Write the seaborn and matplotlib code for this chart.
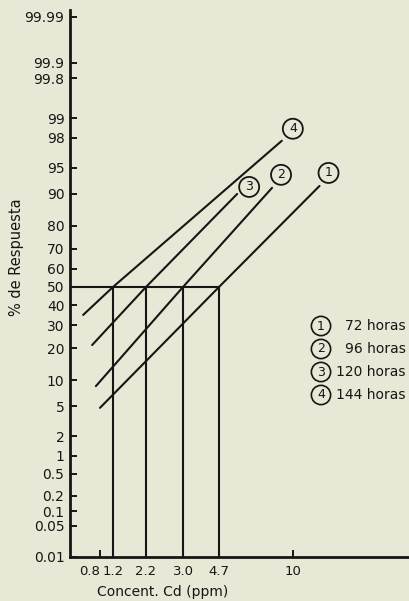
import numpy as np
import pandas as pd
import matplotlib
matplotlib.use("Agg")
import matplotlib.pyplot as plt
import seaborn as sns
from statistics import NormalDist

# --- data -------------------------------------------------------------
hours = [72, 96, 120, 144]
series_ids = ["1", "2", "3", "4"]
lc50 = [4.7, 3.0, 2.2, 1.2]            # concentration at 50 % response (ppm)
conc_lo = [0.80, 0.69, 0.59, 0.35]     # lower end of each response line
resp_lo = [4.8, 8.6, 21.2, 35.0]
conc_hi = [11.9, 8.5, 6.0, 9.2]        # upper end of each response line
resp_hi = [91.8, 91.4, 90.0, 97.8]

x_ticks = [0.8, 1.2, 2.2, 3.0, 4.7, 10]
x_tick_labels = ["0.8", "1.2", "2.2", "3.0", "4.7", "10"]
y_ticks = [0.01, 0.05, 0.1, 0.2, 0.5, 1, 2, 5, 10, 20, 30, 40, 50,
           60, 70, 80, 90, 95, 98, 99, 99.8, 99.9, 99.99]
y_tick_labels = ["0.01", "0.05", "0.1", "0.2", "0.5", "1", "2", "5", "10",
                 "20", "30", "40", "50", "60", "70", "80", "90", "95",
                 "98", "99", "99.8", "99.9", "99.99"]

# --- scales -----------------------------------------------------------
# probability (probit) axis for the response
_nd = NormalDist()
_ppf = np.vectorize(lambda p: _nd.inv_cdf(p), otypes=[float])
_cdf = np.vectorize(lambda z: _nd.cdf(z), otypes=[float])


def prob_fwd(p):
    p = np.clip(np.asarray(p, dtype=float) / 100.0, 1e-9, 1 - 1e-9)
    return _ppf(p)


def prob_inv(z):
    return _cdf(np.asarray(z, dtype=float)) * 100.0


# hand-spaced concentration axis (piecewise linear between the ticks)
knot_c = np.array([0.0, 0.8, 1.2, 2.2, 3.0, 4.7, 10.0])
knot_u = np.array([0.0, 30.0, 43.0, 76.0, 113.0, 149.0, 223.0])
_slope_hi = (knot_u[-1] - knot_u[-2]) / (knot_c[-1] - knot_c[-2])


def conc_fwd(c):
    c = np.asarray(c, dtype=float)
    u = np.interp(c, knot_c, knot_u)
    return np.where(c > knot_c[-1], knot_u[-1] + (c - knot_c[-1]) * _slope_hi, u)


def conc_inv(u):
    u = np.asarray(u, dtype=float)
    c = np.interp(u, knot_u, knot_c)
    return np.where(u > knot_u[-1], knot_c[-1] + (u - knot_u[-1]) / _slope_hi, c)


# --- table for seaborn ------------------------------------------------
rows = []
for sid, a, pa, m, b, pb in zip(series_ids, conc_lo, resp_lo, lc50, conc_hi, resp_hi):
    rows += [(sid, a, pa), (sid, m, 50.0), (sid, b, pb)]
df = pd.DataFrame(rows, columns=["serie", "conc", "resp"])

# --- figure -----------------------------------------------------------
bg = "#e9e8d6"
ink = "#161616"
sns.set_style("ticks")
plt.rcParams["font.family"] = ["DejaVu Sans"]
plt.rcParams["text.color"] = ink
plt.rcParams["xtick.color"] = ink
plt.rcParams["ytick.color"] = ink

fig = plt.figure(figsize=(4.10, 6.01), dpi=100, facecolor=bg)
ax = fig.add_axes([70 / 410, 1 - 557 / 601, 340 / 410, 547 / 601])
ax.set_facecolor(bg)

sns.lineplot(data=df, x="conc", y="resp", units="serie", estimator=None,
             sort=False, color=ink, linewidth=1.5, legend=False, ax=ax)

ax.set_xscale("function", functions=(conc_fwd, conc_inv))
ax.set_yscale("function", functions=(prob_fwd, prob_inv))
ax.set_xlim(0.0, float(conc_inv(340.0)))
ax.set_ylim(0.01, float(prob_inv(3.815)))

# LC50 guide lines
ax.vlines(lc50, 0.01, 50, color=ink, linewidth=1.5)
ax.hlines(50, 0.0, max(lc50), color=ink, linewidth=1.5)

# circled series numbers at the line ends
offsets = {"1": (9, 13), "2": (9, 13), "3": (12, 7), "4": (11, 12)}
for sid, b, pb in zip(series_ids, conc_hi, resp_hi):
    ax.annotate(sid, (b, pb), xytext=offsets[sid], textcoords="offset pixels",
                ha="center", va="center", fontsize=9, color=ink,
                bbox=dict(boxstyle="circle,pad=0.28", fc="none", ec=ink, lw=1.3))

# axes styling
sns.despine(ax=ax)
for side in ("left", "bottom"):
    ax.spines[side].set_linewidth(2.0)
    ax.spines[side].set_color(ink)
ax.set_xticks(x_ticks)
ax.set_xticklabels(x_tick_labels)
ax.set_yticks(y_ticks)
ax.set_yticklabels(y_tick_labels)
ax.minorticks_off()
ax.tick_params(axis="both", direction="in", length=5, width=1.4, labelsize=10)
ax.tick_params(axis="x", labelsize=9.5, pad=6)
ax.tick_params(axis="y", pad=4)
ax.get_xticklabels()[0].set_horizontalalignment("right")
ax.set_xlabel("")
ax.set_ylabel("")

# axis titles
fig.text(17 / 410, 1 - 257 / 601, "% de Respuesta", rotation=90,
         ha="center", va="center", fontsize=10.5)
fig.text(163 / 410, 1 - 592 / 601, "Concent. Cd (ppm)",
         ha="center", va="center", fontsize=10)

# key
key_rows = [326, 349, 372, 395]
for sid, h, yy in zip(series_ids, hours, key_rows):
    fig.text(321 / 410, 1 - yy / 601, sid, ha="center", va="center",
             fontsize=9, color=ink,
             bbox=dict(boxstyle="circle,pad=0.25", fc="none", ec=ink, lw=1.2))
    fig.text(406 / 410, 1 - yy / 601, f"{h} horas", ha="right", va="center",
             fontsize=10, color=ink)

fig.savefig("out.png", dpi=100, facecolor=bg)
